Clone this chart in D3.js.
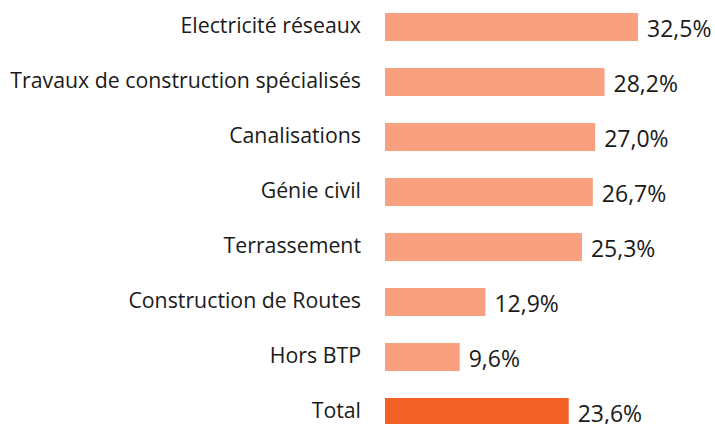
<!DOCTYPE html>
<html><head><meta charset="utf-8">
<script src="https://cdn.jsdelivr.net/npm/d3@7"></script>
<style>body{margin:0;background:#fff}svg{display:block}</style>
</head><body>
<script>
const categories = ["Electricité réseaux","Travaux de construction spécialisés","Canalisations","Génie civil","Terrassement","Construction de Routes","Hors BTP","Total"];
const values = [32.5,28.2,27.0,26.7,25.3,12.9,9.6,23.6];
const labels = ["32,5%","28,2%","27,0%","26,7%","25,3%","12,9%","9,6%","23,6%"];

const W=715,H=424;
const svg=d3.select("body").append("svg").attr("width",W).attr("height",H);
const x0=385;
const x=d3.scaleLinear().domain([0,32.5]).range([x0,638]);
const y=d3.scaleBand().domain(categories).range([-0.5,439.5]).paddingInner(0.49).paddingOuter(0.245);
const font="'Open Sans', sans-serif";

svg.selectAll("rect.bar").data(categories).join("rect")
  .attr("x",x0).attr("y",d=>y(d)).attr("height",y.bandwidth())
  .attr("width",(d,i)=>x(values[i])-x0)
  .attr("fill",(d,i)=>d==="Total"?"#F26125":"#F8A07F");

svg.selectAll("text.cat").data(categories).join("text")
  .attr("x",x0-24).attr("y",d=>y(d)+y.bandwidth()/2-1)
  .attr("dy","0.35em").attr("text-anchor","end")
  .attr("font-family",font).attr("font-size",21.3).attr("fill","#1a1a1a")
  .text(d=>d);

svg.selectAll("text.val").data(categories).join("text")
  .attr("x",(d,i)=>x(values[i])+9).attr("y",d=>y(d)+y.bandwidth()/2+1.5)
  .attr("dy","0.35em").attr("text-anchor","start")
  .attr("font-family",font).attr("font-size",23).attr("fill","#1a1a1a")
  .text((d,i)=>labels[i]);
</script>
</body></html>
